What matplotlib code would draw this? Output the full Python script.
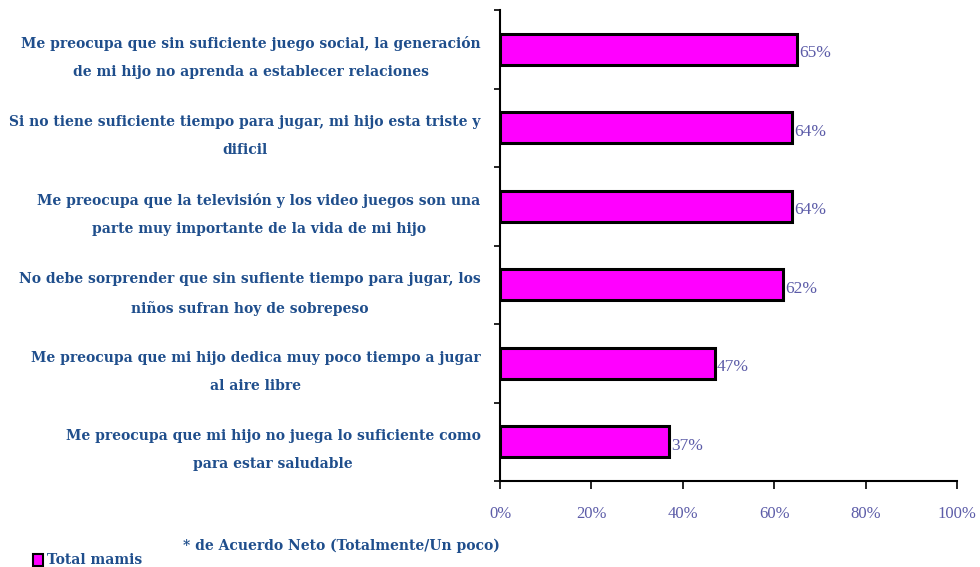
import matplotlib.pyplot as plt
from matplotlib.patches import Rectangle

# data, top to bottom as in the chart
labels = [
    "Me preocupa que sin suficiente juego social, la generación\nde mi hijo no aprenda a establecer relaciones",
    "Si no tiene suficiente tiempo para jugar, mi hijo esta triste y\ndificil",
    "Me preocupa que la televisión y los video juegos son una\nparte muy importante de la vida de mi hijo",
    "No debe sorprender que sin sufiente tiempo para jugar, los\nniños sufran hoy de sobrepeso",
    "Me preocupa que mi hijo dedica muy poco tiempo a jugar\nal aire libre",
    "Me preocupa que mi hijo no juega lo suficiente como\npara estar saludable",
]
values = [65, 64, 64, 62, 47, 37]
xticks = [0, 20, 40, 60, 80, 100]
xtick_labels = ["0%", "20%", "40%", "60%", "80%", "100%"]

text_blue = "#1F4E8C"
num_blue = "#5C5CA8"
font = "Liberation Serif"
lab_font = "DejaVu Serif"

fig = plt.figure(figsize=(9.8, 5.67), dpi=100)
ax = fig.add_axes([500 / 980, 1 - 481 / 567, 457 / 980, 471 / 567])

n = len(values)
ypos = list(range(n))[::-1]
ax.barh(ypos, values, height=0.39, color="#FF00FF", edgecolor="black", linewidth=2.2)

for y, v in zip(ypos, values):
    ax.text(v + 0.4, y - 0.05, f"{v}%", va="center", ha="left",
            fontsize=12.5, color=num_blue, family=font)

ax.set_xlim(0, 100)
ax.set_ylim(-0.5, n - 0.5)

ax.set_xticks(xticks)
ax.set_xticklabels(xtick_labels, fontsize=12, color=num_blue, family=font)
ax.tick_params(axis="x", direction="out", length=6, width=1.2, pad=12)

ax.set_yticks(ypos)
ax.set_yticklabels(labels, fontsize=10, color=text_blue, family=lab_font,
                   fontweight="bold", multialignment="center", linespacing=2.25)
ax.tick_params(axis="y", which="major", length=0, pad=14)
ax.set_yticks([i - 0.5 for i in range(n + 1)], minor=True)
ax.tick_params(axis="y", which="minor", direction="out", length=4, width=1.2)

for s in ["top", "right"]:
    ax.spines[s].set_visible(False)
for s in ["left", "bottom"]:
    ax.spines[s].set_linewidth(1.5)

fig.text(183 / 980, 1 - 546 / 567, "* de Acuerdo Neto (Totalmente/Un poco)",
         fontsize=10, color=text_blue, family=lab_font, fontweight="bold", va="center")

# legend
fig.patches.append(Rectangle((33 / 980, 1 - 566 / 567), 10 / 980, 12 / 567,
                             transform=fig.transFigure, facecolor="#FF00FF",
                             edgecolor="black", linewidth=1.5))
fig.text(47 / 980, 1 - 560 / 567, "Total mamis", fontsize=10, color=text_blue,
         family=lab_font, fontweight="bold", va="center")

fig.savefig("out.png", dpi=100)
